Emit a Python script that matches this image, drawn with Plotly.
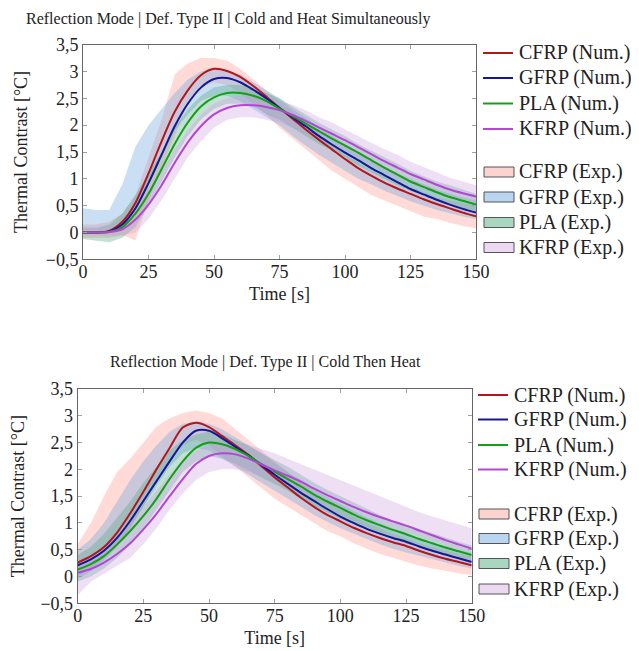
import plotly.graph_objects as go

# ---------------- data ----------------
time_s = [0, 5, 10, 15, 20, 25, 30, 35, 40, 45, 50, 55, 60, 65, 70, 75,
          80, 85, 90, 95, 100, 105, 110, 115, 120, 125, 130, 135, 140, 145, 150]

materials = ["CFRP", "GFRP", "PLA", "KFRP"]

# Top chart: Cold and Heat Simultaneously -- numerical curves
top_num_cfrp = [0.0, 0.0, 0.03, 0.2, 0.55, 1.1, 1.7, 2.25, 2.65, 2.93, 3.05, 3.01, 2.9, 2.73, 2.53, 2.32,
                2.12, 1.92, 1.73, 1.55, 1.37, 1.2, 1.06, 0.93, 0.82, 0.72, 0.62, 0.53, 0.45, 0.37, 0.30]
top_num_gfrp = [0.0, 0.0, 0.02, 0.15, 0.45, 0.92, 1.45, 1.98, 2.4, 2.7, 2.86, 2.88, 2.8, 2.66, 2.5, 2.32,
                2.15, 1.98, 1.8, 1.64, 1.49, 1.35, 1.2, 1.07, 0.94, 0.81, 0.71, 0.61, 0.52, 0.44, 0.37]
top_num_pla = [0.0, 0.0, 0.01, 0.1, 0.35, 0.72, 1.18, 1.65, 2.05, 2.35, 2.52, 2.6, 2.6, 2.55, 2.45, 2.31,
               2.17, 2.03, 1.89, 1.75, 1.62, 1.49, 1.35, 1.21, 1.08, 0.95, 0.85, 0.75, 0.66, 0.59, 0.52]
top_num_kfrp = [0.0, 0.0, 0.01, 0.06, 0.24, 0.52, 0.88, 1.3, 1.68, 1.98, 2.2, 2.32, 2.37, 2.37, 2.34, 2.28,
                2.19, 2.08, 1.96, 1.84, 1.72, 1.59, 1.46, 1.33, 1.21, 1.09, 0.99, 0.89, 0.8, 0.73, 0.67]

# Top chart -- experimental envelopes (low / high)
top_exp_cfrp_lo = [-0.1, -0.1, -0.1, -0.05, -0.15, 0.6, 1.2, 1.8, 2.4, 2.7, 2.8, 2.75, 2.6, 2.4, 2.2, 1.95,
                   1.75, 1.55, 1.35, 1.15, 1.0, 0.85, 0.7, 0.6, 0.5, 0.4, 0.3, 0.25, 0.18, 0.12, 0.08]
top_exp_cfrp_hi = [0.15, 0.15, 0.2, 0.35, 0.7, 1.4, 2.1, 2.95, 3.15, 3.25, 3.25, 3.2, 3.05, 2.85, 2.65, 2.45,
                   2.25, 2.05, 1.85, 1.65, 1.45, 1.3, 1.15, 1.05, 0.95, 0.85, 0.75, 0.65, 0.6, 0.55, 0.5]
top_exp_gfrp_lo = [0.05, 0.05, 0.0, 0.05, 0.5, 0.9, 1.4, 1.9, 2.2, 2.45, 2.55, 2.55, 2.45, 2.3, 2.15, 2.0,
                   1.8, 1.62, 1.45, 1.3, 1.15, 1.0, 0.9, 0.78, 0.68, 0.58, 0.5, 0.42, 0.36, 0.3, 0.25]
top_exp_gfrp_hi = [0.45, 0.42, 0.42, 0.9, 1.6, 2.0, 2.3, 2.6, 2.85, 3.0, 3.05, 3.0, 2.95, 2.8, 2.65, 2.5,
                   2.3, 2.15, 1.95, 1.8, 1.65, 1.5, 1.35, 1.22, 1.1, 1.0, 0.9, 0.8, 0.72, 0.65, 0.6]
top_exp_pla_lo = [-0.12, -0.15, -0.18, -0.1, 0.1, 0.5, 0.95, 1.4, 1.8, 2.1, 2.3, 2.4, 2.4, 2.35, 2.2, 2.1,
                  1.95, 1.8, 1.65, 1.52, 1.4, 1.25, 1.12, 1.0, 0.88, 0.78, 0.68, 0.6, 0.52, 0.45, 0.4]
top_exp_pla_hi = [0.08, 0.08, 0.15, 0.35, 0.7, 1.1, 1.5, 1.95, 2.3, 2.55, 2.7, 2.75, 2.75, 2.7, 2.6, 2.5,
                  2.35, 2.2, 2.05, 1.92, 1.8, 1.65, 1.52, 1.4, 1.28, 1.15, 1.05, 0.95, 0.88, 0.8, 0.72]
top_exp_kfrp_lo = [-0.05, -0.05, -0.05, -0.05, 0.0, 0.25, 0.6, 1.0, 1.4, 1.7, 1.95, 2.1, 2.15, 2.15, 2.1, 2.05,
                   1.95, 1.85, 1.75, 1.62, 1.5, 1.38, 1.25, 1.12, 1.0, 0.9, 0.8, 0.72, 0.65, 0.58, 0.52]
top_exp_kfrp_hi = [0.1, 0.1, 0.12, 0.2, 0.45, 0.8, 1.15, 1.55, 1.9, 2.2, 2.4, 2.5, 2.55, 2.55, 2.5, 2.45,
                   2.38, 2.28, 2.15, 2.05, 1.92, 1.8, 1.68, 1.55, 1.45, 1.32, 1.22, 1.12, 1.02, 0.95, 0.88]

# Bottom chart: Cold Then Heat -- numerical curves
bot_num_cfrp = [0.26, 0.38, 0.55, 0.82, 1.18, 1.58, 2.0, 2.4, 2.78, 2.87, 2.79, 2.62, 2.45, 2.27, 2.06, 1.85,
                1.66, 1.47, 1.3, 1.15, 1.03, 0.91, 0.81, 0.72, 0.64, 0.57, 0.48, 0.4, 0.33, 0.27, 0.21]
bot_num_gfrp = [0.21, 0.32, 0.48, 0.72, 1.04, 1.41, 1.78, 2.15, 2.5, 2.72, 2.72, 2.58, 2.42, 2.26, 2.08, 1.9,
                1.73, 1.56, 1.41, 1.26, 1.12, 1.0, 0.89, 0.8, 0.72, 0.65, 0.56, 0.48, 0.41, 0.34, 0.27]
bot_num_pla = [0.13, 0.23, 0.38, 0.6, 0.85, 1.13, 1.45, 1.82, 2.15, 2.4, 2.5, 2.47, 2.38, 2.25, 2.1, 1.96,
               1.82, 1.68, 1.53, 1.4, 1.28, 1.16, 1.05, 0.96, 0.87, 0.79, 0.7, 0.62, 0.54, 0.47, 0.40]
bot_num_kfrp = [0.07, 0.14, 0.26, 0.42, 0.62, 0.88, 1.17, 1.5, 1.82, 2.1, 2.25, 2.3, 2.28, 2.2, 2.09, 1.98,
                1.88, 1.77, 1.64, 1.52, 1.41, 1.3, 1.2, 1.11, 1.03, 0.95, 0.86, 0.77, 0.68, 0.6, 0.52]

# Bottom chart -- experimental envelopes (low / high)
bot_exp_cfrp_lo = [0.0, 0.15, 0.35, 0.55, 0.9, 1.3, 1.75, 2.15, 2.45, 2.55, 2.45, 2.25, 2.05, 1.85, 1.65, 1.45,
                   1.3, 1.15, 1.0, 0.85, 0.75, 0.62, 0.52, 0.42, 0.35, 0.28, 0.2, 0.15, 0.1, 0.06, 0.03]
bot_exp_cfrp_hi = [0.6, 1.0, 1.5, 1.95, 2.2, 2.5, 2.8, 2.95, 3.05, 3.1, 3.05, 2.95, 2.75, 2.55, 2.35, 2.15,
                   1.95, 1.75, 1.55, 1.4, 1.25, 1.12, 1.0, 0.9, 0.8, 0.72, 0.62, 0.55, 0.48, 0.42, 0.38]
bot_exp_gfrp_lo = [-0.05, 0.1, 0.3, 0.55, 0.9, 1.3, 1.7, 2.05, 2.3, 2.4, 2.35, 2.2, 2.05, 1.9, 1.75, 1.6,
                   1.45, 1.3, 1.15, 1.02, 0.9, 0.8, 0.7, 0.6, 0.52, 0.45, 0.38, 0.32, 0.26, 0.2, 0.15]
bot_exp_gfrp_hi = [0.5, 0.7, 1.0, 1.4, 1.8, 2.15, 2.45, 2.7, 2.85, 2.9, 2.85, 2.75, 2.6, 2.45, 2.3, 2.12,
                   1.95, 1.8, 1.62, 1.48, 1.35, 1.22, 1.1, 1.0, 0.9, 0.82, 0.72, 0.65, 0.57, 0.5, 0.45]
bot_exp_pla_lo = [-0.1, 0.0, 0.15, 0.35, 0.6, 0.9, 1.25, 1.6, 1.95, 2.15, 2.25, 2.2, 2.1, 1.98, 1.85, 1.72,
                  1.6, 1.45, 1.32, 1.2, 1.08, 0.98, 0.88, 0.78, 0.7, 0.62, 0.54, 0.47, 0.4, 0.34, 0.28]
bot_exp_pla_hi = [0.4, 0.55, 0.8, 1.1, 1.4, 1.75, 2.05, 2.35, 2.55, 2.65, 2.7, 2.65, 2.55, 2.45, 2.3, 2.18,
                  2.05, 1.9, 1.75, 1.62, 1.5, 1.38, 1.26, 1.15, 1.05, 0.97, 0.88, 0.8, 0.72, 0.65, 0.58]
bot_exp_kfrp_lo = [-0.35, -0.1, 0.05, 0.2, 0.35, 0.6, 0.9, 1.25, 1.55, 1.8, 1.95, 2.0, 2.0, 1.95, 1.88, 1.78,
                   1.68, 1.58, 1.48, 1.38, 1.28, 1.18, 1.08, 0.98, 0.9, 0.82, 0.74, 0.66, 0.58, 0.5, 0.45]
bot_exp_kfrp_hi = [0.3, 0.4, 0.55, 0.75, 1.0, 1.3, 1.6, 1.9, 2.15, 2.35, 2.45, 2.5, 2.5, 2.45, 2.38, 2.3,
                   2.2, 2.1, 2.0, 1.9, 1.8, 1.7, 1.6, 1.5, 1.4, 1.3, 1.2, 1.12, 1.05, 0.98, 0.9]

x_tickvals = [0, 25, 50, 75, 100, 125, 150]
y_tickvals = [-0.5, 0, 0.5, 1, 1.5, 2, 2.5, 3, 3.5]
y_ticktext = ["\u22120,5", "0", "0,5", "1", "1,5", "2", "2,5", "3", "3,5"]

titles = ["Reflection Mode | Def. Type II | Cold and Heat Simultaneously",
          "Reflection Mode | Def. Type II | Cold Then Heat"]
num_labels = [f"{m} (Num.)" for m in materials]
exp_labels = [f"{m} (Exp.)" for m in materials]

# ---------------- styles ----------------
FONT = "Liberation Serif"
PAGE_OFF = 8                      # default page margin around the figure
W, H = 639 - PAGE_OFF, 651 - PAGE_OFF
line_colors = {"CFRP": "#b3161b", "GFRP": "#16169a", "PLA": "#13a013", "KFRP": "#b446d6"}
band_colors = {"CFRP": "rgba(255,140,130,0.32)", "GFRP": "rgba(110,165,225,0.36)",
               "PLA": "rgba(70,165,125,0.33)", "KFRP": "rgba(205,155,225,0.32)"}
legend_fill = {"CFRP": "#fcd3cf", "GFRP": "#b9d5ef", "PLA": "#a9d6bf", "KFRP": "#ecd8f1"}


def px_x(v):
    return (v - PAGE_OFF) / W


def px_y(v):
    return 1 - (v - PAGE_OFF) / H


fig = go.Figure()

panels = [
    dict(xa="x", ya="y",
         num=[top_num_cfrp, top_num_gfrp, top_num_pla, top_num_kfrp],
         lo=[top_exp_cfrp_lo, top_exp_gfrp_lo, top_exp_pla_lo, top_exp_kfrp_lo],
         hi=[top_exp_cfrp_hi, top_exp_gfrp_hi, top_exp_pla_hi, top_exp_kfrp_hi],
         leg_x=483, num_rows=[53, 78, 103.5, 129], exp_rows=[172, 197, 222.5, 247.5]),
    dict(xa="x2", ya="y2",
         num=[bot_num_cfrp, bot_num_gfrp, bot_num_pla, bot_num_kfrp],
         lo=[bot_exp_cfrp_lo, bot_exp_gfrp_lo, bot_exp_pla_lo, bot_exp_kfrp_lo],
         hi=[bot_exp_cfrp_hi, bot_exp_gfrp_hi, bot_exp_pla_hi, bot_exp_kfrp_hi],
         leg_x=478, num_rows=[395, 419.5, 445, 469.5], exp_rows=[514, 538.5, 563.5, 589]),
]

shapes = []
annotations = []

for p in panels:
    # experimental envelopes
    for m, lo, hi in zip(materials, p["lo"], p["hi"]):
        fig.add_trace(go.Scatter(
            x=time_s + time_s[::-1], y=hi + lo[::-1], fill="toself",
            fillcolor=band_colors[m], line=dict(width=0), mode="lines",
            xaxis=p["xa"], yaxis=p["ya"], showlegend=False, hoverinfo="skip",
            name=f"{m} (Exp.)"))
    # numerical curves
    for m, v in zip(materials, p["num"]):
        fig.add_trace(go.Scatter(
            x=time_s, y=v, mode="lines", name=f"{m} (Num.)",
            line=dict(color=line_colors[m], width=2, shape="spline", smoothing=0.8),
            xaxis=p["xa"], yaxis=p["ya"], showlegend=False))
    # legend (drawn as shapes + text)
    lx = p["leg_x"]
    for m, lab, ry in zip(materials, num_labels, p["num_rows"]):
        shapes.append(dict(type="line", xref="paper", yref="paper",
                           x0=px_x(lx), x1=px_x(lx + 30), y0=px_y(ry), y1=px_y(ry),
                           line=dict(color=line_colors[m], width=2)))
        annotations.append(dict(text=lab, xref="paper", yref="paper", x=px_x(lx + 34), y=px_y(ry),
                                xanchor="left", yanchor="middle", showarrow=False,
                                font=dict(family=FONT, size=20, color="#222")))
    for m, lab, ry in zip(materials, exp_labels, p["exp_rows"]):
        shapes.append(dict(type="rect", xref="paper", yref="paper",
                           x0=px_x(lx + 1), x1=px_x(lx + 31), y0=px_y(ry + 5), y1=px_y(ry - 5),
                           fillcolor=legend_fill[m], line=dict(color="#555555", width=1)))
        annotations.append(dict(text=lab, xref="paper", yref="paper", x=px_x(lx + 34), y=px_y(ry),
                                xanchor="left", yanchor="middle", showarrow=False,
                                font=dict(family=FONT, size=20, color="#222")))

annotations += [
    dict(text=titles[0], x=px_x(228), y=px_y(19), xref="paper", yref="paper",
         xanchor="center", yanchor="middle",
         showarrow=False, font=dict(family=FONT, size=16, color="#222")),
    dict(text=titles[1], x=px_x(265), y=px_y(362), xref="paper", yref="paper",
         xanchor="center", yanchor="middle",
         showarrow=False, font=dict(family=FONT, size=16, color="#222")),
]

axis_common = dict(
    showline=True, linecolor="#666666", linewidth=1, mirror="ticks",
    ticks="inside", ticklen=4, tickcolor="#a0a0a0", showgrid=False, zeroline=False,
    automargin=False, tickfont=dict(family=FONT, size=18, color="#222"),
)
xtitle = dict(text="Time [s]", font=dict(family=FONT, size=18, color="#222"), standoff=6)
ytitle = dict(text="Thermal Contrast [°C]", font=dict(family=FONT, size=18, color="#222"), standoff=13)

fig.update_layout(
    width=W, height=H, margin=dict(l=0, r=0, t=0, b=0),
    paper_bgcolor="white", plot_bgcolor="white", showlegend=False,
    font=dict(family=FONT, color="#222"),
    xaxis=dict(domain=[px_x(83), px_x(476)], anchor="y", range=[0, 150], tickvals=x_tickvals,
               title=xtitle, ticklabelstandoff=-4, **axis_common),
    yaxis=dict(domain=[px_y(259.3), px_y(44.7)], anchor="x", range=[-0.5, 3.5],
               tickvals=y_tickvals, ticktext=y_ticktext, title=ytitle, **axis_common),
    xaxis2=dict(domain=[px_x(77.7), px_x(471.7)], anchor="y2", range=[0, 150], tickvals=x_tickvals,
                title=xtitle, ticklabelstandoff=-4, **axis_common),
    yaxis2=dict(domain=[px_y(603.3), px_y(389)], anchor="x2", range=[-0.5, 3.5],
                tickvals=y_tickvals, ticktext=y_ticktext, title=ytitle, **axis_common),
    shapes=shapes,
    annotations=annotations,
)

fig.write_html("out.html")
